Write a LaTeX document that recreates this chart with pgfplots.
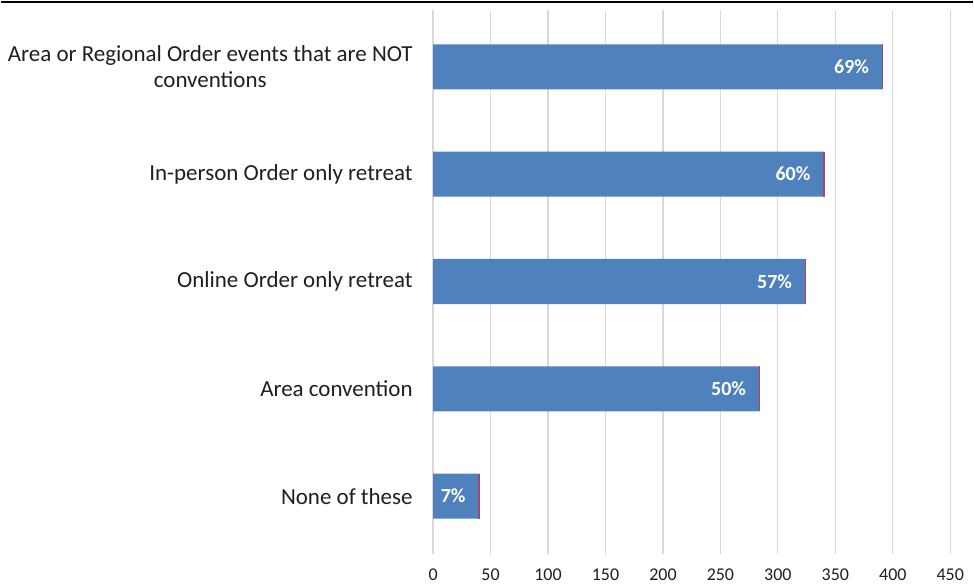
\documentclass[border=0pt]{standalone}
\usepackage{pgfplots}
\pgfplotsset{compat=1.18}
\usepackage{fontspec}
\setmainfont{Carlito}
\definecolor{barblue}{HTML}{4F81BD}
\definecolor{endred}{HTML}{A0467A}
\definecolor{gridgray}{HTML}{D9D9D9}
\begin{document}
\begin{tikzpicture}[x=1pt,y=1pt]
\begin{axis}[
  at={(433pt,32pt)}, anchor=south west,
  scale only axis, width=518pt, height=545pt,
  xmin=0, xmax=450, ymin=-0.54, ymax=4.53,
  xtick={0,50,...,450},
  ytick={0,1,2,3,4},
  yticklabels={{None of these},{Area convention},{Online Order only retreat},{In-person Order only retreat},{Area or Regional Order events that are NOT\\conventions}},
  yticklabel style={align=center, font=\fontsize{23}{26}\selectfont, xshift=-17pt, text=black!88},
  xticklabel style={font=\fontsize{18}{21}\selectfont, yshift=-11pt, text=black!88},
  /pgf/number format/assume math mode=true,
  xmajorgrids, major grid style={draw=gridgray, line width=1.2pt},
  axis line style={draw=none},
  major tick length=0pt,
  clip=false,
]
\addplot[xbar, bar width=0.42, fill=barblue, draw=none,
  point meta=explicit symbolic,
  nodes near coords,
  every node near coord/.append style={anchor=east, xshift=-10pt, text=white, font=\bfseries\fontsize{20}{23}\selectfont}]
  coordinates {(40,0) [7\%] (284,1) [50\%] (324,2) [57\%] (340,3) [60\%] (391,4) [69\%]};
\addplot[only marks, mark=|, mark size=22.5pt, mark options={draw=endred, line width=1.5pt}, forget plot]
  coordinates {(40,0) (284,1) (324,2) (340,3) (391,4)};
\end{axis}
\draw[black, line width=1.5pt] (0,585) -- (974,585);
\useasboundingbox (0,0) rectangle (974,587);
\end{tikzpicture}
\end{document}
